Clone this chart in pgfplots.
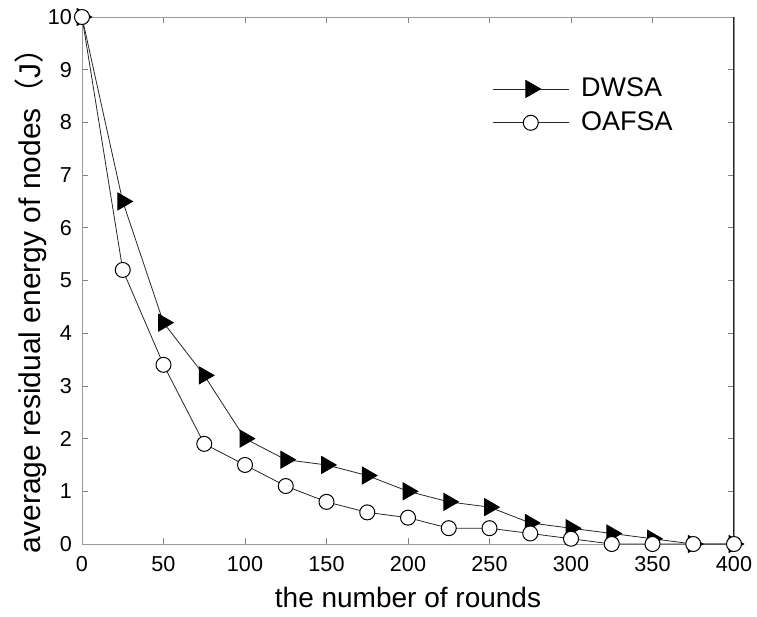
\documentclass[border=0pt]{standalone}
\usepackage{pgfplots}
\pgfplotsset{compat=1.18}
\usepackage{fontspec}
\setmainfont{Liberation Sans}
\newfontfamily\cjk{Noto Sans CJK SC}
\begin{document}
\begin{tikzpicture}
\begin{axis}[
    width=326pt,height=263.5pt,
    scale only axis,
    xmin=0,xmax=400,ymin=0,ymax=10,
    xtick={0,50,...,400},
    ytick={0,1,...,10},
    tick align=inside,
    tick pos=both,
    axis line style={gray!80},
    major tick length=3pt,
    every tick/.style={gray},
    tick label style={font=\fontsize{10.8}{12}\selectfont},
    /pgf/number format/assume math mode=true,
    xticklabel style={anchor=base,yshift=-13.5pt},
    yticklabel style={xshift=-1.5pt},
    xlabel={the number of rounds},
    ylabel={average residual energy of nodes{\cjk （}J{\cjk ）}},
    xlabel style={font=\fontsize{14}{16}\selectfont,
        at={(axis description cs:0.5,-0.1214)},anchor=base},
    ylabel style={font=\fontsize{15}{16}\selectfont,
        at={(axis description cs:-0.0644,0.476)},anchor=base},
    legend style={draw=none,fill=none,inner sep=0pt,
        at={(axis description cs:0.6288,0.885)},anchor=north west,
        font=\fontsize{13.5}{15}\selectfont,row sep=6pt,column sep=6pt,
        nodes={inner sep=0pt}},
    legend cell align=left,
    legend image code/.code={
        \draw[#1,mark=none] (0pt,0pt) -- (38pt,0pt);
        \draw[#1,mark repeat=2,mark phase=2] plot coordinates {(0pt,0pt) (19pt,0pt) (38pt,0pt)};
    },
]
\addplot[black!85,line width=0.4pt,mark=triangle*,
    mark options={fill=black,draw=black,rotate=-90},mark size=4.9pt] coordinates {
(0,10) (25,6.5) (50,4.2) (75,3.2) (100,2.0) (125,1.6) (150,1.5) (175,1.3)
(200,1.0) (225,0.8) (250,0.7) (275,0.4) (300,0.3) (325,0.2) (350,0.1)
(375,0) (400,0)
};
\addlegendentry{DWSA}
\addplot[black!85,line width=0.4pt,mark=*,
    mark options={fill=white,draw=black,line width=0.5pt},mark size=3.75pt] coordinates {
(0,10) (25,5.2) (50,3.4) (75,1.9) (100,1.5) (125,1.1) (150,0.8) (175,0.6)
(200,0.5) (225,0.3) (250,0.3) (275,0.2) (300,0.1) (325,0) (350,0)
(375,0) (400,0)
};
\addlegendentry{OAFSA}
\draw[black!85,line width=0.6pt] (rel axis cs:1,0) -- (rel axis cs:1,1);
\end{axis}
\pgfresetboundingbox
\path[use as bounding box] ([shift={(-41pt,-36pt)}]current axis.south west)
    rectangle ([shift={(11.5pt,8.5pt)}]current axis.north east);
\end{tikzpicture}
\end{document}
